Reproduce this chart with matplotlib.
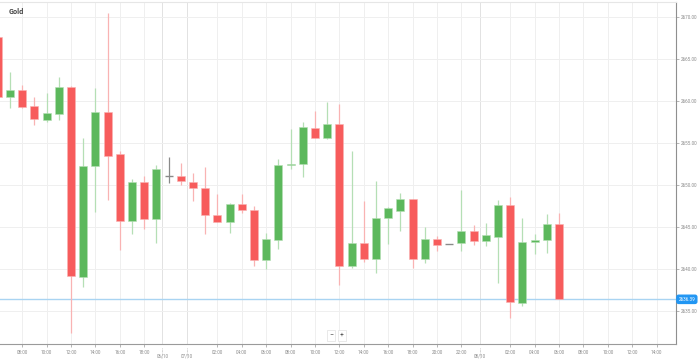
import matplotlib.pyplot as plt
import numpy as np

# hourly candles, index 0 = Fri 07:00 (index -1 is the clipped one at the left edge)
idx = list(range(-1, 46))
opens = [2667.6, 2660.5, 2661.3, 2659.4, 2657.7, 2658.5, 2661.7, 2639.1, 2652.3, 2658.7,
         2653.7, 2645.7, 2650.4, 2646.0, 2651.1, 2651.1, 2650.4, 2649.7, 2646.4, 2645.6,
         2647.7, 2647.0, 2641.1, 2643.5, 2652.4, 2652.5, 2656.8, 2655.6, 2657.3, 2640.4,
         2643.1, 2641.2, 2646.1, 2646.9, 2648.3, 2641.2, 2643.6, 2643.0, 2643.1, 2644.5,
         2643.3, 2643.8, 2647.6, 2636.0, 2643.2, 2643.4, 2645.4]
highs = [2668.0, 2663.5, 2661.9, 2660.5, 2661.0, 2662.9, 2661.8, 2655.6, 2661.5, 2670.5,
         2654.0, 2650.7, 2651.1, 2652.4, 2653.3, 2652.6, 2651.4, 2652.1, 2648.9, 2647.9,
         2648.9, 2647.5, 2644.3, 2653.1, 2656.7, 2657.5, 2658.8, 2659.9, 2659.6, 2654.0,
         2648.1, 2650.5, 2647.4, 2649.1, 2648.3, 2645.0, 2643.9, 2643.0, 2649.4, 2645.2,
         2645.5, 2648.2, 2648.6, 2646.1, 2644.2, 2646.6, 2646.7]
lows = [2660.0, 2659.2, 2659.2, 2657.1, 2657.5, 2657.7, 2632.4, 2637.9, 2646.8, 2648.2,
        2642.3, 2644.2, 2644.8, 2643.1, 2650.2, 2650.0, 2648.1, 2644.2, 2645.6, 2644.3,
        2646.7, 2640.4, 2640.0, 2642.4, 2651.9, 2651.0, 2655.6, 2655.5, 2638.1, 2640.1,
        2640.8, 2639.5, 2643.0, 2644.5, 2640.1, 2640.7, 2642.1, 2643.0, 2642.1, 2642.8,
        2642.7, 2638.3, 2634.2, 2635.6, 2641.8, 2641.9, 2636.39]
closes = [2660.5, 2661.3, 2659.3, 2657.9, 2658.6, 2661.7, 2639.2, 2652.3, 2658.7, 2653.5,
          2645.7, 2650.4, 2646.0, 2651.9, 2651.1, 2650.5, 2649.6, 2646.4, 2645.6, 2647.7,
          2647.0, 2641.1, 2643.6, 2652.4, 2652.5, 2656.9, 2655.6, 2657.3, 2640.4, 2643.1,
          2641.2, 2646.1, 2647.3, 2648.3, 2641.2, 2643.6, 2642.9, 2643.0, 2644.5, 2643.3,
          2644.0, 2647.6, 2636.1, 2643.2, 2643.5, 2645.4, 2636.39]

last_price = 2636.39
price_ticks = [2635, 2640, 2645, 2650, 2655, 2660, 2665, 2670]
time_tick_pos = [1, 3, 5, 7, 9, 11, 17, 19, 21, 23, 25, 27, 29, 31, 33, 35, 37,
                 41, 43, 45, 47, 49, 51, 53]
time_tick_labels = ["08:00", "10:00", "12:00", "14:00", "16:00", "18:00",
                    "02:00", "04:00", "06:00", "08:00", "10:00", "12:00", "14:00",
                    "16:00", "18:00", "20:00", "22:00",
                    "02:00", "04:00", "06:00", "08:00", "10:00", "12:00", "14:00"]
date_tick_pos = [12.5, 14.5, 38.5]
date_tick_labels = ["06/10", "07/10", "08/10"]

GREEN = "#5cb85c"
RED = "#f75c5c"
GREEN_WICK = "#b5dfb5"
RED_WICK = "#f9b3b3"
GREY = "#8a8a8a"
TXT = "#8c8c8c"

plt.rcParams["font.family"] = ["Roboto", "DejaVu Sans"]

fig = plt.figure(figsize=(6.99, 3.63), dpi=100)
ax = fig.add_axes([0.0, 19 / 363, 675.7 / 699, 342 / 363])

x = np.array(idx, dtype=float)
o = np.array(opens)
c = np.array(closes)
h = np.array(highs)
l = np.array(lows)

for xi, oi, hi, li, ci in zip(x, o, h, l, c):
    if abs(ci - oi) < 0.05:
        ax.vlines(xi, li, hi, color=GREY, lw=0.9, zorder=3)
        ax.hlines(ci, xi - 0.33, xi + 0.33, color=GREY, lw=1.0, zorder=3)
        continue
    up = ci > oi
    wick = GREEN_WICK if up else RED_WICK
    face = GREEN if up else RED
    ax.vlines(xi, li, hi, color=wick, lw=0.9, zorder=2)
    ax.bar(xi, abs(ci - oi), bottom=min(oi, ci), width=0.65, color=face,
           edgecolor=GREEN_WICK if up else RED_WICK, linewidth=0.4, zorder=3)

# current price line
ax.axhline(last_price, color="#a9d4f2", lw=1.0, zorder=1)

ax.set_xlim(-0.82, 54.57)
ax.set_ylim(2631.07, 2671.79)

ax.yaxis.tick_right()
ax.set_yticks(price_ticks)
ax.set_yticklabels(["%.2f" % p for p in price_ticks], fontsize=3.3, color=TXT)
ax.tick_params(axis="y", length=2.5, width=0.5, color="#999999", pad=1.5)

ax.set_xticks(time_tick_pos)
ax.set_xticklabels(time_tick_labels, fontsize=3.3, color=TXT)
ax.set_xticks(date_tick_pos, minor=True)
ax.set_xticklabels(date_tick_labels, minor=True, fontsize=3.3, color=TXT)
ax.tick_params(axis="x", which="major", length=2.5, width=0.5, color="#999999", pad=2)
ax.tick_params(axis="x", which="minor", length=0, pad=7)

ax.grid(True, which="major", color="#efefef", lw=0.7, zorder=0)
for dp in date_tick_pos:
    ax.axvline(dp, color="#e2e2e2", lw=0.7, zorder=0)
    ax.plot([dp, dp], [-0.012, -0.04], transform=ax.get_xaxis_transform(),
            color="#aaaaaa", lw=0.5, ls=(0, (1, 1)), clip_on=False)
ax.set_axisbelow(True)

for side in ["left"]:
    ax.spines[side].set_visible(False)
ax.spines["top"].set_color("#e6e6e6")
ax.spines["top"].set_linewidth(0.8)
ax.spines["right"].set_color("#8f8f8f")
ax.spines["right"].set_linewidth(0.8)
ax.spines["bottom"].set_color("#9a9a9a")
ax.spines["bottom"].set_linewidth(0.8)

# last price label on the axis
ax.annotate("%.2f" % last_price, xy=(1.0, last_price),
            xycoords=("axes fraction", "data"), xytext=(2, 0),
            textcoords="offset points", fontsize=3.3, color="white",
            va="center", ha="left",
            bbox=dict(boxstyle="round,pad=0.35,rounding_size=0.4",
                      fc="#2196f3", ec="#2196f3"),
            annotation_clip=False)

fig.text(9 / 699, 1 - 12.5 / 363, "Gold", fontsize=5.2, fontweight="bold",
         color="#444444", va="center", ha="left")

# zoom buttons
for bx, sym in [(331, "\u2212"), (342, "+")]:
    fig.text(bx / 699, 1 - 335.5 / 363, sym, fontsize=5, color="#555555",
             ha="center", va="center",
             bbox=dict(boxstyle="square,pad=0.25", fc="white", ec="#e0e0e0", lw=0.5))

fig.savefig("out.png", dpi=100)
